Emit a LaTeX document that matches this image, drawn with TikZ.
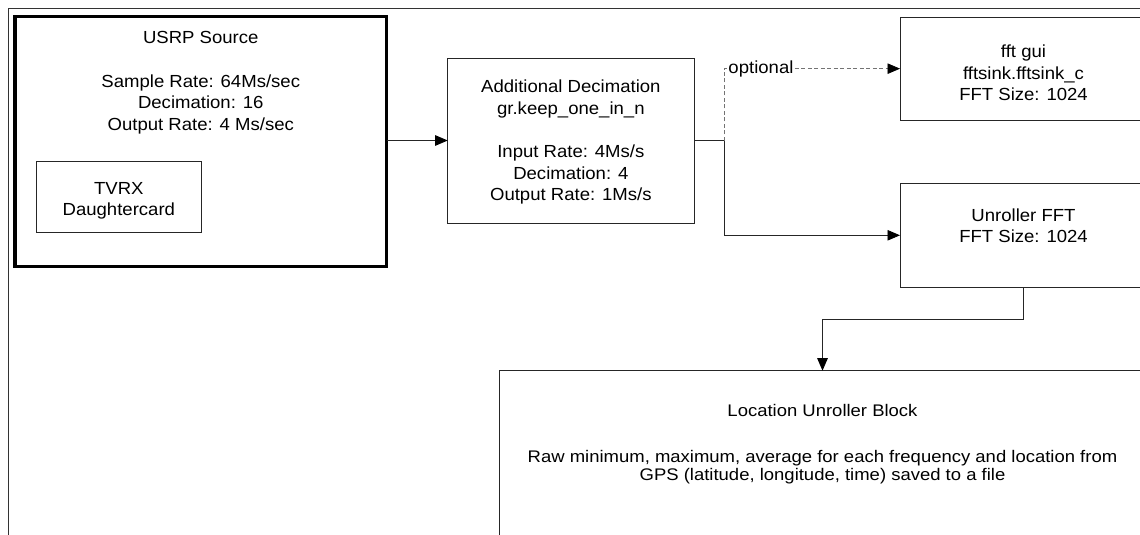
\documentclass[tikz,border=0pt]{standalone}
\usepackage{fontspec}
\setmainfont{Liberation Sans}[FakeStretch=1.06]
\newfontfamily\locfont{Liberation Sans}[FakeStretch=1.1]
\usetikzlibrary{arrows.meta,calc}
\tikzset{
  box/.style={draw=black!85, line width=0.9pt, inner sep=0pt, outer sep=0pt, rectangle},
  thickbox/.style={box, draw=black, line width=3.8pt},
  txt/.style={anchor=base, inner sep=0pt, font=\fontsize{17.5}{21.5}\selectfont},
  loctxt/.style={anchor=base, inner sep=0pt, font=\locfont\fontsize{16.8}{18}\selectfont},
  wire/.style={draw=black!85, line width=0.9pt},
  arr/.style={wire, -{Triangle[length=12.5pt,width=10.5pt,color=black]}},
  opt/.style={draw=black!55, line width=0.8pt, dash pattern=on 4pt off 2.5pt, -{Triangle[length=12.5pt,width=10.5pt,color=black]}},
  frame/.style={draw=black!80, line width=0.9pt},
}
\begin{document}
\begin{tikzpicture}[x=1pt,y=-1pt]
\useasboundingbox (0,0) rectangle (1140,535);
\clip (0,0) rectangle (1140,535);
\fill[white] (0,0) rectangle (1140,535);
% outer frame (cut by the page)
\draw[frame] (8,560) -- (8,8) -- (1160,8);

% boxes
\node[thickbox, minimum width=371.5pt, minimum height=250pt] (usrp) at (200.75,141.5) {};
\node[box, minimum width=165.7pt, minimum height=71.7pt] (tvrx) at (118.85,196.85) {};
\node[box, minimum width=246.3pt, minimum height=165.5pt] (dec) at (570.85,140.75) {};
\node[box, minimum width=247pt, minimum height=102.7pt] (gui) at (1023.5,68.65) {};
\node[box, minimum width=247pt, minimum height=104pt] (ufft) at (1023.5,235.3) {};
\node[box, minimum width=647pt, minimum height=300pt] (loc) at (822.5,520.7) {};

% texts
\node[txt] (t1) at (200.75,43.3) {USRP Source};
\node[txt] (t2) at (200.75,87.3) {Sample Rate: 64Ms/sec};
\node[txt] (t3) at (200.75,108.8) {Decimation: 16};
\node[txt] (t4) at (200.75,130.3) {Output Rate: 4 Ms/sec};

\node[txt] (t5) at (118.85,194.6) {TVRX};
\node[txt] (t6) at (118.85,215.8) {Daughtercard};

\node[txt] (t7) at (570.85,92.3) {Additional Decimation};
\node[txt] (t8) at (570.85,114) {gr.keep\_one\_in\_n};
\node[txt] (t9) at (570.85,157.4) {Input Rate: 4Ms/s};
\node[txt] (t10) at (570.85,179.1) {Decimation: 4};
\node[txt] (t11) at (570.85,200.8) {Output Rate: 1Ms/s};

\node[txt] (t12) at (1023.5,58) {fft gui};
\node[txt] (t13) at (1023.5,79.3) {fftsink.fftsink\_c};
\node[txt] (t14) at (1023.5,100.6) {FFT Size: 1024};

\node[txt] (t15) at (1023.5,221.3) {Unroller FFT};
\node[txt] (t16) at (1023.5,242.6) {FFT Size: 1024};

\node[loctxt] (t17) at (822.5,416.4) {Location Unroller Block};
\node[loctxt] (t18) at (822.5,462.8) {Raw minimum, maximum, average for each frequency and location from};
\node[loctxt] (t19) at (822.5,480.8) {GPS (latitude, longitude, time) saved to a file};

% connectors
\draw[arr] (usrp.east |- 0,140.5) -- (dec.west |- 0,140.5);
\coordinate (j) at ($(dec.east)+(30,0)$);
\draw[wire] (dec.east) -- (j);
\draw[arr] (j) |- (ufft.west);
\draw[opt] (j) |- node[pos=0.605, fill=white, inner sep=1pt, font=\fontsize{17.5}{21.5}\selectfont] (optl) {optional} (gui.west);
\draw[arr] (ufft.south) -- ++(0,31.7) -| (loc.north);
\end{tikzpicture}
\end{document}
